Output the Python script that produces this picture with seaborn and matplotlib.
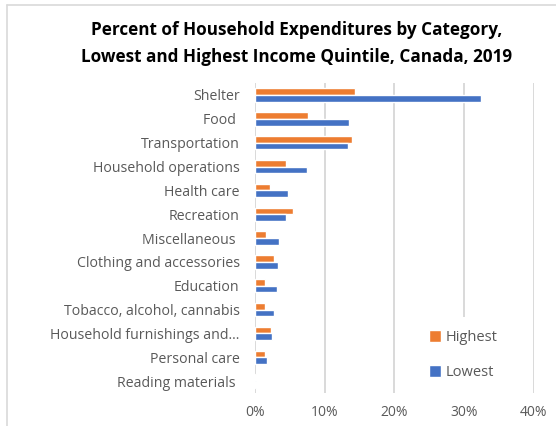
import matplotlib
matplotlib.use("Agg")
import matplotlib.pyplot as plt
from matplotlib.lines import Line2D
from matplotlib.ticker import PercentFormatter
import seaborn as sns
import pandas as pd

categories = [
    "Shelter", "Food ", "Transportation", "Household operations", "Health care",
    "Recreation", "Miscellaneous ", "Clothing and accessories", "Education",
    "Tobacco, alcohol, cannabis", "Household furnishings and\u2026",
    "Personal care", "Reading materials ",
]
highest = [14.4, 7.6, 13.9, 4.4, 2.1, 5.4, 1.6, 2.7, 1.5, 1.4, 2.3, 1.4, 0.1]
lowest = [32.4, 13.5, 13.3, 7.4, 4.8, 4.4, 3.4, 3.3, 3.1, 2.7, 2.4, 1.7, 0.2]
series = ["Highest", "Lowest"]
colors = ["#ED7D31", "#4472C4"]
x_ticks = [0, 10, 20, 30, 40]

df = pd.DataFrame({
    "Category": categories * 2,
    "Quintile": [series[0]] * len(categories) + [series[1]] * len(categories),
    "Percent": highest + lowest,
})

sns.set_theme(style="white")
plt.rcParams["font.family"] = ["Open Sans", "DejaVu Sans"]

fig = plt.figure(figsize=(5.56, 4.26), dpi=100)
ax = fig.add_axes([0.4586, 0.0775, 0.5018, 0.7275])

sns.barplot(
    data=df, y="Category", x="Percent", hue="Quintile", hue_order=series,
    order=categories, palette=colors, orient="h", width=0.56,
    saturation=1, ax=ax, legend=True,
)

ax.set_xlim(0, 40)
ax.set_xticks(x_ticks)
ax.xaxis.set_major_formatter(PercentFormatter(decimals=0))
ax.set_xlabel("")
ax.set_ylabel("")
ax.grid(axis="x", color="#D9D9D9", linewidth=1.4)
ax.set_axisbelow(True)
for s in ax.spines.values():
    s.set_visible(False)
ax.tick_params(axis="y", length=0, colors="#595959", labelsize=10.2, pad=11)
ax.tick_params(axis="x", length=0, colors="#595959", labelsize=10, pad=9)

leg = ax.legend(
    loc="center left", bbox_to_anchor=(0.735, 1 - 355 / 426),
    bbox_transform=fig.transFigure, frameon=True, facecolor="white",
    edgecolor="none", framealpha=1, fontsize=10.5, handlelength=0.85,
    handleheight=0.85, handletextpad=0.3, labelspacing=1.35, borderpad=0.9,
)
for t in leg.get_texts():
    t.set_color("#595959")

fig.text(0.534, 1 - 30 / 426, "Percent of Household Expenditures by Category,",
         ha="center", va="center", fontsize=12.3, fontweight="bold", color="black")
fig.text(0.534, 1 - 57 / 426, "Lowest and Highest Income Quintile, Canada, 2019",
         ha="center", va="center", fontsize=12.3, fontweight="bold", color="black")

# outer chart frame
fig.add_artist(Line2D([7 / 556, 7 / 556], [0, 1 - 5 / 426], transform=fig.transFigure,
                      color="#D9D9D9", linewidth=1.2))
fig.add_artist(Line2D([7 / 556, 1], [1 - 5 / 426, 1 - 5 / 426], transform=fig.transFigure,
                      color="#D9D9D9", linewidth=1.2))

fig.savefig("out.png", dpi=100)
